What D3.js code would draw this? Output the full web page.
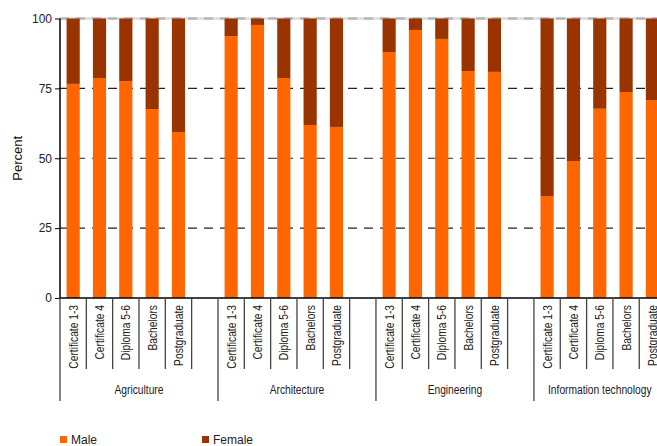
<!DOCTYPE html>
<html>
<head>
<meta charset="utf-8">
<script src="https://cdn.jsdelivr.net/npm/d3@7"></script>
<style>
  html, body { margin: 0; padding: 0; background: #fff; }
  svg { display: block; }
  .narrow { font-family: "Liberation Sans", Arial, sans-serif; }
</style>
</head>
<body>
<svg id="chart" width="657" height="446"></svg>
<script>
// ---- data ----
const groups = ["Agriculture", "Architecture", "Engineering", "Information technology"];
const levels = ["Certificate 1-3", "Certificate 4", "Diploma 5-6", "Bachelors", "Postgraduate"];
const maleValues = [
  [76.6, 78.7, 77.6, 67.6, 59.4],
  [93.7, 97.7, 78.7, 61.9, 61.2],
  [88.0, 95.9, 92.7, 81.2, 80.9],
  [36.5, 49.0, 67.7, 73.7, 70.8]
];
const femaleValues = [
  [23.4, 21.3, 22.4, 32.4, 40.6],
  [6.3, 2.3, 21.3, 38.1, 38.8],
  [12.0, 4.1, 7.3, 18.8, 19.1],
  [63.5, 51.0, 32.3, 26.3, 29.2]
];
const yTicks = [0, 25, 50, 75, 100];
const seriesNames = ["Male", "Female"];
const seriesColors = ["#FF6600", "#993300"];

// ---- layout ----
const svg = d3.select("#chart");
const plotLeft = 60, plotBottom = 298, plotTop = 18.5;
const slotW = 26.33;
const narrowScale = 0.77;

// slots: 5 bars + spacer per group (no spacer after last)
const slots = [];
groups.forEach((g, gi) => {
  levels.forEach((l, li) => slots.push({ key: g + "|" + l, group: g, gi, level: l, li, male: maleValues[gi][li], female: femaleValues[gi][li] }));
  if (gi < groups.length - 1) slots.push({ key: g + "|spacer", spacer: true, gi });
});

const x = d3.scaleBand()
  .domain(slots.map(s => s.key))
  .range([plotLeft, plotLeft + slotW * slots.length])
  .paddingInner(0.5)
  .paddingOuter(0.25);
const step = x.step();
const slotStart = k => x(k) - x.bandwidth() * 0.5;

const y = d3.scaleLinear().domain([0, 100]).range([plotBottom, plotTop]);

// gridlines
const grid = svg.append("g");
yTicks.filter(t => t > 0 && t < 100).forEach(t => {
  grid.append("line")
    .attr("x1", plotLeft).attr("x2", 700)
    .attr("y1", y(t)).attr("y2", y(t))
    .attr("stroke", "#222").attr("stroke-width", 1.2)
    .attr("stroke-dasharray", "9,7");
});
grid.append("line")
  .attr("x1", plotLeft).attr("x2", 700)
  .attr("y1", y(100)).attr("y2", y(100))
  .attr("stroke", "#dcdcdc").attr("stroke-width", 2.5);
grid.append("line")
  .attr("x1", plotLeft).attr("x2", 700)
  .attr("y1", y(100)).attr("y2", y(100))
  .attr("stroke", "#b8b8b8").attr("stroke-width", 2.5)
  .attr("stroke-dasharray", "9,7");

// bars
const barData = slots.filter(s => !s.spacer);
const stackKeys = ["male", "female"];
const stacked = d3.stack().keys(stackKeys)(barData);
svg.append("g").selectAll("g")
  .data(stacked)
  .join("g")
  .attr("fill", (d, i) => seriesColors[i])
  .selectAll("rect")
  .data(d => d)
  .join("rect")
  .attr("x", d => x(d.data.key))
  .attr("width", x.bandwidth())
  .attr("y", d => y(Math.min(100, d[1])))
  .attr("height", d => y(d[0]) - y(Math.min(100, d[1])));

// y axis
const yAxis = svg.append("g").attr("transform", `translate(${plotLeft},0)`)
  .call(d3.axisLeft(y).tickValues(yTicks).tickSize(5).tickPadding(3));
yAxis.select(".domain").remove();
yAxis.selectAll(".tick line").attr("stroke", "#000");
yAxis.selectAll(".tick text")
  .attr("font-family", "'Liberation Sans', Arial, sans-serif")
  .attr("font-size", 12).attr("fill", "#222");
svg.append("line")
  .attr("x1", plotLeft).attr("x2", plotLeft).attr("y1", plotTop).attr("y2", plotBottom)
  .attr("stroke", "#000").attr("stroke-width", 1.5);

// y title
svg.append("text")
  .attr("transform", `translate(22,${(plotTop + plotBottom) / 2}) rotate(-90)`)
  .attr("text-anchor", "middle")
  .attr("font-family", "'Liberation Sans', Arial, sans-serif")
  .attr("font-size", 13).attr("fill", "#111")
  .text("Percent");

// x baseline
svg.append("line")
  .attr("x1", plotLeft).attr("x2", 700).attr("y1", plotBottom).attr("y2", plotBottom)
  .attr("stroke", "#000").attr("stroke-width", 1.5);

// category separator lines
const sepG = svg.append("g").attr("stroke", "#444").attr("stroke-width", 1.3);
slots.forEach((s, i) => {
  const xs = slotStart(s.key);
  const long = (i === 0) || (slots[i - 1] && slots[i - 1].spacer);
  sepG.append("line")
    .attr("x1", xs).attr("x2", xs)
    .attr("y1", plotBottom).attr("y2", long ? 401 : 369);
});

// category labels
svg.append("g").selectAll("text")
  .data(barData)
  .join("text")
  .attr("class", "narrow")
  .attr("transform", d => `translate(${x(d.key) + x.bandwidth() / 2 + 4.6},305) rotate(-90) scale(${narrowScale},1)`)
  .attr("text-anchor", "end")
  .attr("font-size", 13.3).attr("fill", "#222")
  .text(d => d.level);

// group labels
groups.forEach((g, gi) => {
  const gs = slots.filter(s => s.gi === gi);
  const x0 = slotStart(gs[0].key);
  const x1 = slotStart(gs[gs.length - 1].key) + step;
  svg.append("text")
    .attr("class", "narrow")
    .attr("transform", `translate(${(x0 + x1) / 2},394) scale(${narrowScale},1)`)
    .attr("text-anchor", "middle")
    .attr("font-size", 13.3).attr("fill", "#222")
    .text(g);
});

// legend
const legendX = [60, 202];
seriesNames.forEach((n, i) => {
  const lg = svg.append("g").attr("transform", `translate(${legendX[i]},436)`);
  lg.append("rect").attr("width", 7).attr("height", 7).attr("fill", seriesColors[i]);
  lg.append("text").attr("x", 11).attr("y", 7.5)
    .attr("font-family", "'Liberation Sans', Arial, sans-serif")
    .attr("font-size", 12).attr("fill", "#222").text(n);
});
</script>
</body>
</html>
